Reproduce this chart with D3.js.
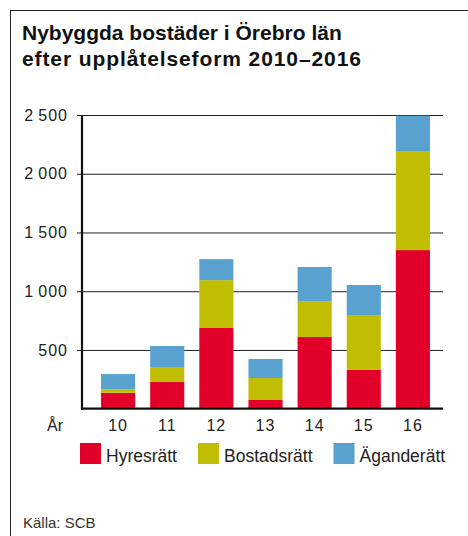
<!DOCTYPE html>
<html>
<head>
<meta charset="utf-8">
<script src="https://cdn.jsdelivr.net/npm/d3@7"></script>
<style>
  body { margin: 0; background: #fff; }
  svg { font-family: "Liberation Sans", Arial, sans-serif; }
</style>
</head>
<body>
<svg id="chart" width="468" height="536"></svg>
<script>
// data
const years = ["10", "11", "12", "13", "14", "15", "16"];
const hyresratt = [135, 227, 687, 74, 610, 330, 1350];
const bostadsratt = [30, 128, 407, 187, 306, 467, 843];
const aganderatt = [130, 179, 179, 162, 290, 256, 301];
const seriesNames = ["Hyresrätt", "Bostadsrätt", "Äganderätt"];
const seriesColors = ["#e2002a", "#c1bd00", "#59a1ce"];
const yTicks = [500, 1000, 1500, 2000, 2500];

const rows = years.map((y, i) => ({
    year: y,
    "Hyresrätt": hyresratt[i],
    "Bostadsrätt": bostadsratt[i],
    "Äganderätt": aganderatt[i]
}));

const svg = d3.select("#chart");

// frame
svg.append("line").attr("x1", 10.5).attr("x2", 10.5).attr("y1", 10).attr("y2", 536)
    .attr("stroke", "#222").attr("stroke-width", 1);
svg.append("line").attr("x1", 10).attr("x2", 468).attr("y1", 10.5).attr("y2", 10.5)
    .attr("stroke", "#222").attr("stroke-width", 1);

// title
const title = svg.append("text")
    .style("font-size", "21px")
    .style("font-weight", "bold")
    .style("fill", "#111");
title.append("tspan").attr("x", 22).attr("y", 40).text("Nybyggda bostäder i Örebro län");
title.append("tspan").attr("x", 22).attr("y", 66)
    .style("letter-spacing", "0.9px")
    .text("efter upplåtelseform 2010–2016");

// scales
const axisX = 82, gridRight = 443;
const y = d3.scaleLinear().domain([0, 2500]).range([408.7, 115]);
const x = d3.scaleBand().domain(years).range([86.3, 444.7])
    .paddingInner(0.306).paddingOuter(0.3);

const locale = d3.formatLocale({ decimal: ",", thousands: "\u2009", grouping: [3], currency: ["", ""] });
const fmt = locale.format(",");

// gridlines + tick labels
const grid = svg.append("g").attr("transform", `translate(${axisX},0)`)
    .call(d3.axisLeft(y).tickValues(yTicks).tickSize(-(gridRight - axisX)).tickFormat(fmt).tickPadding(12));
grid.select(".domain").remove();
grid.selectAll(".tick line").attr("stroke", "#222").attr("x1", -5);
grid.selectAll(".tick text")
    .attr("x", -14)
    .style("font-family", "Liberation Sans, Arial, sans-serif")
    .style("font-size", "16px")
    .style("letter-spacing", "1px")
    .style("fill", "#222");

// stacked bars
const stack = d3.stack().keys(seriesNames);
const layers = stack(rows);

svg.append("g").selectAll("g")
    .data(layers)
    .enter()
    .append("g")
    .attr("fill", (d, i) => seriesColors[i])
    .selectAll("rect")
    .data(d => d)
    .enter()
    .append("rect")
    .attr("x", d => x(d.data.year))
    .attr("y", d => y(d[1]))
    .attr("height", d => y(d[0]) - y(d[1]))
    .attr("width", x.bandwidth());

// axes lines
svg.append("line").attr("x1", axisX).attr("x2", axisX).attr("y1", y(2500)).attr("y2", y(0) + 1)
    .attr("stroke", "#111").attr("stroke-width", 2.2);
svg.append("line").attr("x1", axisX - 1).attr("x2", gridRight).attr("y1", y(0)).attr("y2", y(0))
    .attr("stroke", "#111").attr("stroke-width", 2.2);

// x labels
svg.append("g").selectAll("text")
    .data(years)
    .enter()
    .append("text")
    .attr("x", d => x(d) + x.bandwidth() / 2)
    .attr("y", 431)
    .attr("text-anchor", "middle")
    .style("font-size", "16px")
    .style("letter-spacing", "1px")
    .style("fill", "#222")
    .text(d => d);

svg.append("text")
    .attr("x", 47)
    .attr("y", 431)
    .style("font-size", "16px")
    .style("fill", "#222")
    .text("År");

// legend
const legend = svg.append("g");
let lx = 80;
seriesNames.forEach((name, i) => {
    legend.append("rect")
        .attr("x", lx).attr("y", 443)
        .attr("width", 21).attr("height", 21)
        .attr("fill", seriesColors[i]);
    const t = legend.append("text")
        .attr("x", lx + 26).attr("y", 462)
        .style("font-size", "17.5px")
        .style("fill", "#222")
        .text(name);
    lx = lx + 26 + t.node().getComputedTextLength() + 21;
});

// source
svg.append("text")
    .attr("x", 23)
    .attr("y", 528)
    .style("font-size", "15px")
    .style("fill", "#333")
    .text("Källa: SCB");
</script>
</body>
</html>
